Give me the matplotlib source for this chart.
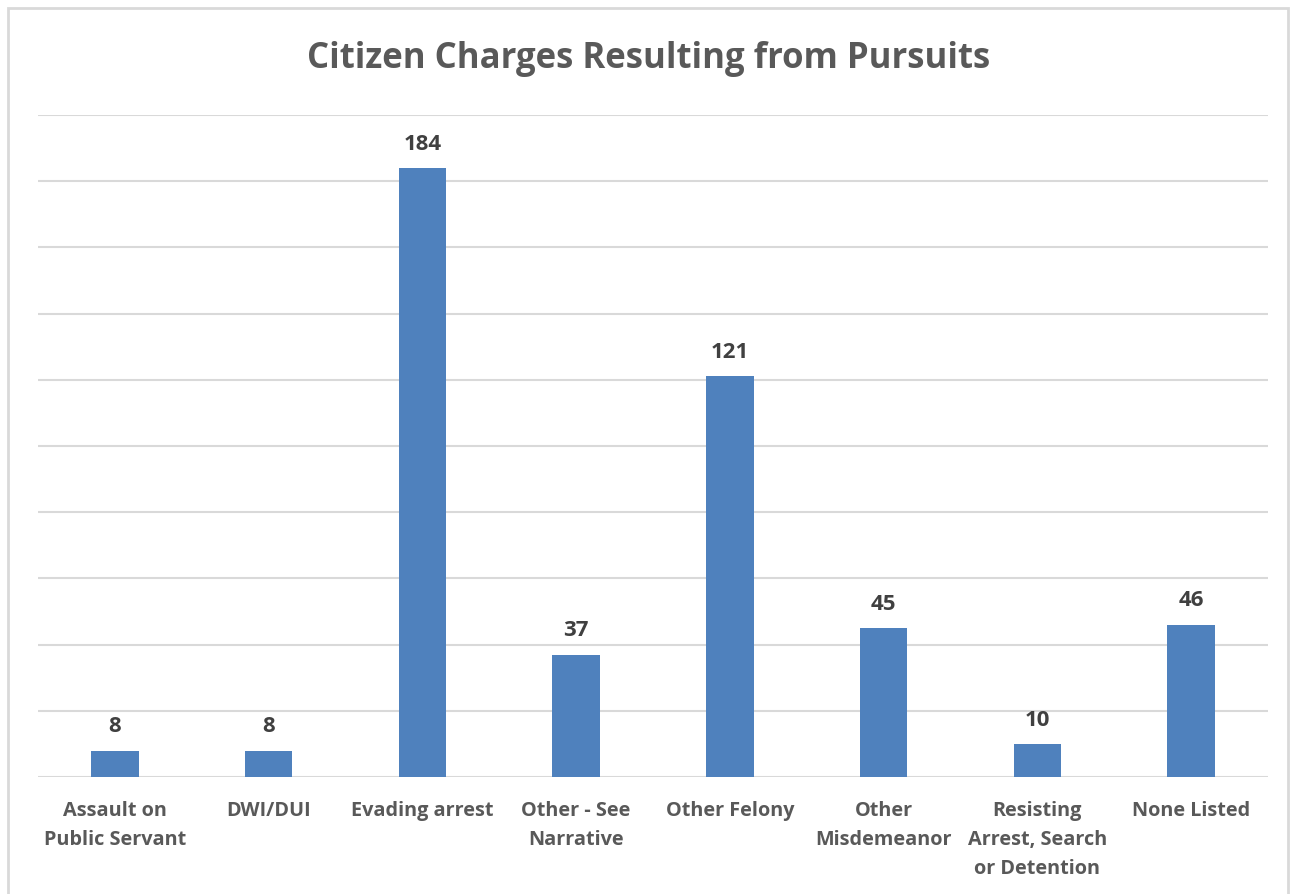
import matplotlib.pyplot as plt
from matplotlib.patches import Rectangle

categories = ['Assault on\nPublic Servant', 'DWI/DUI', 'Evading arrest',
              'Other - See\nNarrative', 'Other Felony', 'Other\nMisdemeanor',
              'Resisting\nArrest, Search\nor Detention', 'None Listed']
values = [8, 8, 184, 37, 121, 45, 10, 46]

plt.rcParams['font.family'] = ['Open Sans', 'DejaVu Sans']

fig = plt.figure(figsize=(12.97, 8.94), dpi=100)
ax = fig.add_axes([38 / 1297, 1 - 777 / 894, (1268 - 38) / 1297, (777 - 115) / 894])

x = range(len(categories))
bars = ax.bar(x, values, width=0.31, color='#4F81BD', zorder=3)
for b, v in zip(bars, values):
    ax.text(b.get_x() + b.get_width() / 2, v + 4, str(v), ha='center', va='bottom',
            fontsize=16, fontweight='bold', color='#404040')

ax.set_xlim(-0.5, len(categories) - 0.5)
ax.set_ylim(0, 200)
ax.set_yticks(range(0, 201, 20))
ax.set_yticklabels([])
ax.tick_params(axis='y', length=0)
ax.grid(axis='y', color='#D9D9D9', linewidth=1.5, zorder=0)
for s in ax.spines.values():
    s.set_visible(False)

ax.set_xticks(list(x))
ax.set_xticklabels(categories, fontsize=14.3, fontweight='bold', color='#595959',
                   linespacing=1.62)
ax.tick_params(axis='x', length=0, pad=17)

fig.text(0.5, 1 - 59 / 894, 'Citizen Charges Resulting from Pursuits', ha='center',
         va='center', fontsize=25, fontweight='bold', color='#595959')

# chart frame
fig.patches.append(Rectangle((8 / 1297, -0.01), (1288 - 8) / 1297, 1 - 8 / 894 + 0.01,
                             transform=fig.transFigure, fill=False,
                             edgecolor='#D9D9D9', linewidth=2))

fig.savefig('out.png', dpi=100)
